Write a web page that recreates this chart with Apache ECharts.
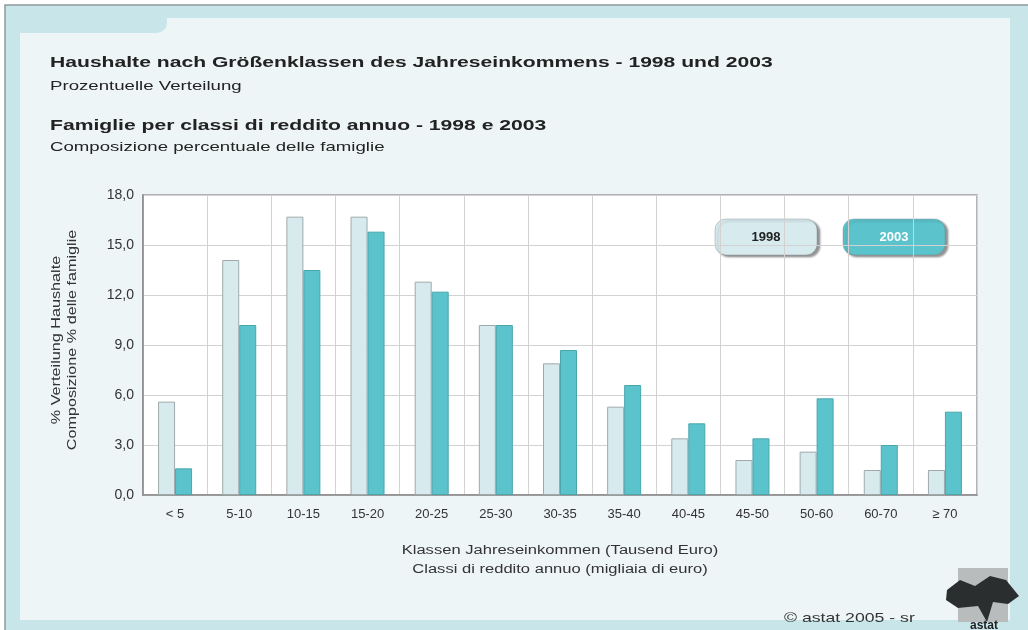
<!DOCTYPE html>
<html>
<head>
    <meta charset="utf-8">
    <title>Haushalte nach Größenklassen des Jahreseinkommens</title>
    <script src="https://cdn.jsdelivr.net/npm/echarts@6/dist/echarts.min.js"></script>
    <style>
        body { margin: 0; background: #fff; }
        #chart { width: 1028px; height: 630px; }
    </style>
</head>
<body>
    <div id="chart"></div>
    <script type="text/javascript">
        // Einkommensklassen / classi di reddito
        const categories = ['< 5', '5-10', '10-15', '15-20', '20-25', '25-30', '30-35',
            '35-40', '40-45', '45-50', '50-60', '60-70', '≥ 70'];
        const values1998 = [5.6, 14.1, 16.7, 16.7, 12.8, 10.2, 7.9, 5.3, 3.4, 2.1, 2.6, 1.5, 1.5];
        const values2003 = [1.6, 10.2, 13.5, 15.8, 12.2, 10.2, 8.7, 6.6, 4.3, 3.4, 5.8, 3.0, 5.0];
        const yTicks = [0, 3, 6, 9, 12, 15, 18];

        const teal = '#c8e5e9';
        const light = '#d7ebef';
        const dark = '#5bc3cb';
        const sx = 1.38; // das Original ist horizontal gestreckt

        const chart = echarts.init(document.getElementById('chart'));

        function legendBox(x, label, fill, textColor) {
            return {
                type: 'group',
                x: x, y: 219,
                children: [{
                    type: 'rect',
                    shape: { x: 0, y: 0, width: 102, height: 36, r: 11 },
                    style: {
                        fill: fill, stroke: 'rgba(120,130,135,0.4)', lineWidth: 1,
                        shadowBlur: 2, shadowOffsetX: 3, shadowOffsetY: 2,
                        shadowColor: 'rgba(60,60,60,0.55)'
                    }
                }, {
                    type: 'text',
                    x: 51, y: 18,
                    style: {
                        text: label, fill: textColor, font: 'bold 13px "Liberation Sans", Arial',
                        align: 'center', verticalAlign: 'middle'
                    }
                }]
            };
        }

        function label(x, y, text, size, bold, align, color) {
            return {
                type: 'text', x: x, y: y, scaleX: sx,
                style: {
                    text: text, fill: color || '#222',
                    font: (bold ? 'bold ' : '') + size + 'px "Liberation Sans", Arial',
                    align: align || 'left', verticalAlign: 'middle'
                }
            };
        }

        function yName(x, text) {
            return {
                type: 'text', x: x, y: 340, rotation: Math.PI / 2, scaleX: 1.2,
                style: {
                    text: text, fill: '#333',
                    font: '13.5px "Liberation Sans", Arial', align: 'center', verticalAlign: 'middle'
                }
            };
        }

        const option = {
            animation: false,
            backgroundColor: '#fff',
            graphic: [
                // Rahmen
                { type: 'rect', z: -10, shape: { x: 5, y: 5, width: 1030, height: 630 },
                  style: { fill: teal, stroke: '#8c9a9c', lineWidth: 1.5 } },
                { type: 'rect', z: -9, shape: { x: 20, y: 18, width: 990, height: 602 },
                  style: { fill: '#eef5f6' } },
                { type: 'rect', z: -8, shape: { x: 20, y: 17, width: 147, height: 16, r: [0, 0, 10, 0] },
                  style: { fill: teal } },
                // Titel
                label(50, 63, 'Haushalte nach Größenklassen des Jahreseinkommens - 1998 und 2003', 15.3, true),
                label(50, 86, 'Prozentuelle Verteilung', 13.5),
                label(50, 126, 'Famiglie per classi di reddito annuo - 1998 e 2003', 15.3, true),
                label(50, 147, 'Composizione percentuale delle famiglie', 13.5),
                // Achsentitel
                label(560, 551, 'Klassen Jahreseinkommen (Tausend Euro)', 12, false, 'center', '#333'),
                label(560, 570, 'Classi di reddito annuo (migliaia di euro)', 12, false, 'center', '#333'),
                yName(56, '% Verteilung Haushalte'),
                yName(72, 'Composizione % delle famiglie'),
                // Legende
                legendBox(715, '1998', light, '#222'),
                legendBox(843, '2003', dark, '#fff'),
                // Copyright und Logo
                label(784, 618, '© astat 2005 - sr', 12.8, false, 'left', '#333'),
                { type: 'rect', shape: { x: 958, y: 568, width: 50, height: 54 },
                  style: { fill: '#b9bcbd' } },
                { type: 'polygon',
                  shape: { points: [[947, 590], [960, 580], [975, 586], [990, 576], [1006, 580],
                                    [1019, 596], [1008, 604], [993, 602], [987, 622], [978, 606],
                                    [958, 608], [946, 600]] },
                  style: { fill: '#2b2e2f' } },
                { type: 'text', x: 984, y: 626,
                  style: { text: 'astat', fill: '#222', font: 'bold 12px "Liberation Sans", Arial',
                           align: 'center', verticalAlign: 'middle' } }
            ],
            grid: {
                left: 143, right: 51, top: 195, bottom: 135,
                show: true, backgroundColor: '#fff', borderColor: '#9a9a9a', borderWidth: 1.5
            },
            xAxis: {
                type: 'category',
                data: categories,
                axisLine: { lineStyle: { color: '#8a8a8a', width: 1.5 } },
                axisTick: { show: false },
                axisLabel: { color: '#333', fontSize: 13, fontFamily: 'Liberation Sans', margin: 13 },
                splitLine: { show: true, lineStyle: { color: '#d2d2d2' } }
            },
            yAxis: {
                type: 'value',
                min: yTicks[0],
                max: yTicks[yTicks.length - 1],
                interval: yTicks[1] - yTicks[0],
                axisLine: { show: true, lineStyle: { color: '#8a8a8a', width: 1.5 } },
                axisTick: { show: false },
                axisLabel: {
                    color: '#333', fontSize: 14, fontFamily: 'Liberation Sans', margin: 9,
                    formatter: function (v) { return v.toFixed(1).replace('.', ','); }
                },
                splitLine: { lineStyle: { color: '#d2d2d2' } }
            },
            series: [{
                name: '1998',
                type: 'bar',
                data: values1998,
                barWidth: 17,
                barGap: '0%',
                itemStyle: { color: light, borderColor: '#9fa9ab', borderWidth: 1 }
            }, {
                name: '2003',
                type: 'bar',
                data: values2003,
                barWidth: 17,
                itemStyle: { color: dark, borderColor: '#4aa6ad', borderWidth: 1 }
            }]
        };
        chart.setOption(option);
    </script>
</body>
</html>
